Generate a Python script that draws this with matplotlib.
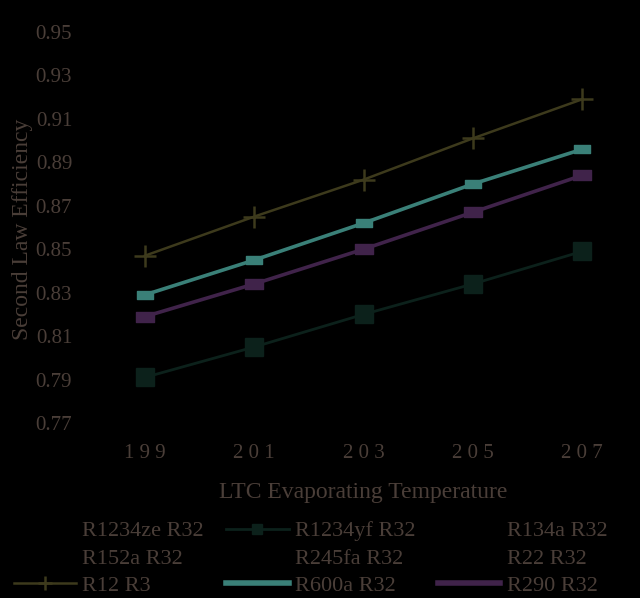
import matplotlib
matplotlib.use("Agg")
import matplotlib.pyplot as plt
from matplotlib.path import Path

temps = [199, 201, 203, 205, 207]
xtick_labels = ["1 9 9", "2 0 1", "2 0 3", "2 0 5", "2 0 7"]
yticks = [0.77, 0.79, 0.81, 0.83, 0.85, 0.87, 0.89, 0.91, 0.93, 0.95]

r12_r3 = [0.847, 0.865, 0.882, 0.901, 0.919]
r600a_r32 = [0.829, 0.845, 0.862, 0.880, 0.896]
r290_r32 = [0.819, 0.834, 0.850, 0.867, 0.884]
r1234yf_r32 = [0.791, 0.805, 0.820, 0.834, 0.849]

txt = "#4a3e38"
c_r12 = "#3d3a1c"
c_r600 = "#3a8078"
c_r290 = "#40234a"
c_r1234yf = "#0c211b"

plt.rcParams['font.family'] = ['Liberation Serif', 'DejaVu Serif']

fig = plt.figure(figsize=(6.4, 5.98), dpi=100, facecolor="black")
ax = fig.add_axes([0.141, 0.2926, 0.854, 0.654])
ax.set_facecolor("black")

rect = Path([(-1, -0.5), (1, -0.5), (1, 0.5), (-1, 0.5), (-1, -0.5)],
            [Path.MOVETO, Path.LINETO, Path.LINETO, Path.LINETO, Path.CLOSEPOLY])

h_ze, = ax.plot([], [], color="black", label="R1234ze R32")
h_yf, = ax.plot(temps, r1234yf_r32, color=c_r1234yf, lw=2, marker="s", ms=13,
                label="R1234yf R32")
h_134, = ax.plot([], [], color="black", label="R134a R32")
h_152, = ax.plot([], [], color="black", label="R152a R32")
h_245, = ax.plot([], [], color="black", label="R245fa R32")
h_22, = ax.plot([], [], color="black", label="R22 R32")
h_12, = ax.plot(temps, r12_r3, color=c_r12, lw=1.8, marker="+", ms=16, mew=1.8,
                label="R12 R3")
h_600, = ax.plot(temps, r600a_r32, color=c_r600, lw=2.6, marker=rect, ms=11,
                 label="R600a R32")
h_290, = ax.plot(temps, r290_r32, color=c_r290, lw=2.6, marker=rect, ms=13,
                 label="R290 R32")

ax.set_xlim(198, 208)
ax.set_ylim(0.77, 0.95)
ax.set_xticks(temps)
ax.set_xticklabels(xtick_labels)
ax.set_yticks(yticks)
ax.set_yticklabels([f"{v:.2f}" for v in yticks])
ax.tick_params(axis="both", length=0, colors=txt, labelsize=15)
ax.tick_params(axis="x", pad=15)
ax.tick_params(axis="y", pad=13)
for s in ax.spines.values():
    s.set_visible(False)

ax.set_xlabel("LTC Evaporating Temperature", color=txt, fontsize=17, labelpad=14)
fig.text(0.035, 0.617, "Second Law Efficiency", color=txt, fontsize=17,
         rotation=90, ha="center", va="center")

# legend row-major order -> column-major for matplotlib
order = [h_ze, h_152, h_12, h_yf, h_245, h_600, h_134, h_22, h_290]
leg = fig.legend(handles=order, labels=[h.get_label() for h in order],
                 ncol=3, loc="lower left", bbox_to_anchor=(-0.01, -0.03),
                 frameon=False, fontsize=16, handlelength=2.8,
                 columnspacing=1.0, labelspacing=0.3, handletextpad=0.3,
                 markerscale=0.6, labelcolor=txt)
leg_lines = leg.get_lines()
for idx in (5, 8):
    leg_lines[idx].set_marker("None")
    leg_lines[idx].set_linewidth(4)

fig.savefig("out.png", dpi=100, facecolor="black")
